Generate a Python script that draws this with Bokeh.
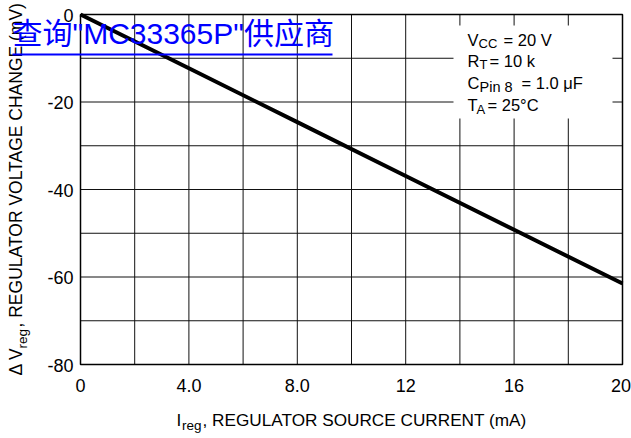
from math import pi
from bokeh.plotting import figure
from bokeh.models import Label, BoxAnnotation
from bokeh.core.properties import value
from bokeh.embed import file_html
from bokeh.resources import INLINE

# ---- data ----
current_ma = [0, 4, 8, 12, 16, 20]
delta_v_mv = [0, -12.3, -24.6, -36.9, -49.2, -61.5]
x_ticks = [0, 4, 8, 12, 16, 20]
x_tick_labels = ["0", "4.0", "8.0", "12", "16", "20"]
y_ticks = [0, -20, -40, -60, -80]
y_tick_labels = ["0", "-20", "-40", "-60", "-80"]
x_grid = [2, 4, 6, 8, 10, 12, 14, 16, 18]
y_grid = [-10, -20, -30, -40, -50, -60, -70]

FONT = "'Liberation Sans', Arial, sans-serif"
WM_FONT = "'Liberation Sans', 'Noto Sans CJK SC', sans-serif"

W, H = 631, 438
# plot area in canvas pixels: x 80..622, y 14..364
FX0, FX1, FY0, FY1 = 80, 622, 14, 364
X0, X1 = x_ticks[0], x_ticks[-1]
Y0, Y1 = y_ticks[0], y_ticks[-1]


def dx(px):
    return X0 + (px - FX0) / (FX1 - FX0) * (X1 - X0)


def dy(py):
    return Y0 + (py - FY0) / (FY1 - FY0) * (Y1 - Y0)


p = figure(width=W, height=H, x_range=(dx(0), dx(W)), y_range=(dy(H), dy(0)),
           output_backend="svg", toolbar_location=None,
           x_axis_type=None, y_axis_type=None, min_border=0)
p.background_fill_color = "white"
p.border_fill_color = "white"
p.outline_line_color = None
p.grid.visible = False

# grid lines
p.segment(x0=x_grid, y0=[Y1] * len(x_grid), x1=x_grid, y1=[Y0] * len(x_grid),
          line_color="#111111", line_width=1)
p.segment(x0=[X0] * len(y_grid), y0=y_grid, x1=[X1] * len(y_grid), y1=y_grid,
          line_color="#111111", line_width=1)
# plot frame
p.quad(left=[X0], right=[X1], top=[Y0], bottom=[Y1], fill_color=None,
       line_color="black", line_width=1.5)

# tick labels (anchor = vertical centre of the digits)
p.text(x=x_ticks, y=[dy(385)] * len(x_ticks), text=x_tick_labels,
       x_offset=[0, 0, 0, 0, 0, -1.5],
       text_font=value(FONT), text_font_size="18px", text_color="black",
       text_align="center", text_baseline="alphabetic")
p.text(x=[dx(73)] * len(y_ticks), y=[t + dy(FY0 + 0.8) for t in y_ticks], text=y_tick_labels,
       text_font=value(FONT), text_font_size="18px", text_color="black",
       text_align="right", text_baseline="alphabetic")

# data curve
p.line(current_ma, delta_v_mv, line_width=4, line_color="black")

# condition box
p.add_layout(BoxAnnotation(left=dx(453), right=dx(612), top=dy(25), bottom=dy(118),
                           fill_color="white", fill_alpha=1, line_color=None))


def put(text, px, py, size, angle=0, color="black", font=FONT):
    p.add_layout(Label(x=dx(px), y=dy(py), text=text, text_font=font,
                       text_font_size=f"{size}px", text_color=color,
                       text_align="left", text_baseline="alphabetic", angle=angle))


# conditions (py = vertical centre of capitals)
cond = [
    ("V", "CC", "= 20 V", 39, 478, 503),
    ("R", "T", "= 10 k", 60, 479, 489),
    ("C", "Pin 8", "= 1.0 μF", 82, 479, 521),
    ("T", "A", "= 25°C", 104.5, 476, 487),
]
for main, sub, rest, mid, xs, xr in cond:
    put(main, 467, mid, 16.5)
    put(sub, xs, mid + 4.3, 13 if sub != "Pin 8" else 14.5)
    put(rest, xr, mid, 16.5)

# x axis label
put("I", 176, 419.5, 17.2)
put("reg", 181.5, 425, 13.5)
put(", REGULATOR SOURCE CURRENT (mA)", 202, 419.5, 17.2)

# y axis label (rotated)
put("Δ V", 15, 375, 17.5, angle=pi / 2)
put("reg", 22, 348, 13.5, angle=pi / 2)
put(", REGULATOR VOLTAGE CHANGE (mV)", 15, 327, 17.5, angle=pi / 2)

# watermark
put('查询"MC33365P"供应商', 12, 33, 30, color="#0000ff", font=WM_FONT)
p.add_layout(BoxAnnotation(left=dx(12), right=dx(332), top=dy(53), bottom=dy(55),
                           fill_color="#0000ff", fill_alpha=1, line_color=None))

open("out.html", "w").write(file_html(p, INLINE))
